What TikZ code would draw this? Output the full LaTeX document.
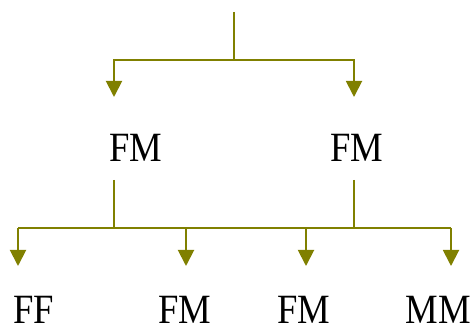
\documentclass[tikz,border=0pt]{standalone}
\usepackage{fontspec}
\setmainfont{Liberation Serif}[FakeStretch=0.88]
\usepackage{xcolor}
\usetikzlibrary{arrows.meta}
\definecolor{branch}{HTML}{808000}
\definecolor{text}{HTML}{000000}
\tikzset{
  link/.style={draw=branch, line width=1.1pt},
  drop/.style={link, -{Triangle[width=0.32cm,length=0.32cm]}},
  gen/.style={text=text, font=\fontsize{23.7}{28}\selectfont, anchor=base, inner sep=0pt},
}
\begin{document}
\begin{tikzpicture}
  \useasboundingbox (0,0) rectangle (9.48,6.48);
  % parents
  \coordinate (P) at (4.68,6.24);
  \coordinate (J) at (4.68,5.28);
  \coordinate (aL) at (2.28,4.54);
  \coordinate (aR) at (7.08,4.54);
  \node[gen] (fmL) at (2.71,3.24) {FM};
  \node[gen] (fmR) at (7.13,3.24) {FM};
  \draw[link] (P) -- (J);
  \draw[drop] (J) -| (aL);
  \draw[drop] (J) -| (aR);
  % offspring
  \coordinate (sL) at (2.28,2.88);
  \coordinate (sR) at (7.08,2.88);
  \coordinate (bar) at (0,1.92);
  \draw[link] (sL) -- (sL |- bar);
  \draw[link] (sR) -- (sR |- bar);
  \draw[link] (0.36,1.92) -- (9.02,1.92);
  \foreach \k/\x/\t/\g in {ff/0.36/0.67/FF,fm1/3.72/3.69/FM,fm2/6.12/6.08/FM,mm/9.02/8.76/MM}{
    \coordinate (d\k) at (\x,1.16);
    \draw[drop] (d\k |- bar) -- (d\k);
    \node[gen] (\k) at (\t,0.0) {\g};
  }
\end{tikzpicture}
\end{document}
